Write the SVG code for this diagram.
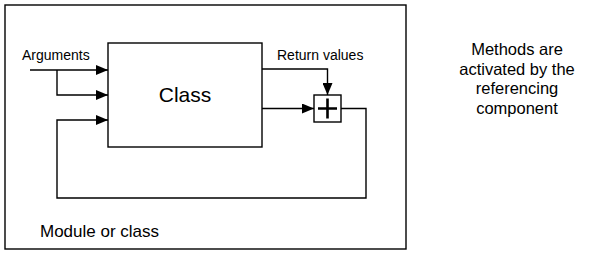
<svg xmlns="http://www.w3.org/2000/svg" width="600" height="254" viewBox="0 0 600 254">
<defs>
<marker id="ah" viewBox="0 0 12 10" refX="12" refY="5" markerWidth="12" markerHeight="10" markerUnits="userSpaceOnUse" orient="auto">
<path d="M0,0 L12,5 L0,10 Z" fill="#000"/>
</marker>
</defs>
<style>
text{font-family:"Liberation Sans",Arial,sans-serif;fill:#000}
.box{fill:#fff;stroke:#000;stroke-width:1.4}
.ln{fill:none;stroke:#000;stroke-width:1.4}
.plus{fill:none;stroke:#000;stroke-width:2.6}
.arr{fill:none;stroke:#000;stroke-width:1.4;marker-end:url(#ah)}
</style>
<rect width="600" height="254" fill="#fff"/>
<g id="module">
<rect class="box" x="5" y="5" width="401" height="244"/>
<text x="40" y="237" font-size="17">Module or class</text>
</g>
<g id="class">
<rect class="box" x="108" y="43" width="154" height="104"/>
<text x="185" y="102" font-size="21" text-anchor="middle">Class</text>
</g>
<g id="sum">
<rect class="box" x="314" y="95" width="27" height="27"/>
<path class="plus" d="M327.5,98.5 V118.5 M318,108.5 H337"/>
</g>
<g id="connectors">
<path class="arr" d="M30,70 H108"/>
<path class="arr" d="M57,70 V95 H108"/>
<path class="arr" d="M341,108.5 H366 V198 H57 V120 H108"/>
<path class="arr" d="M262,108.5 H314"/>
<path class="arr" d="M262,69 H327.5 V95"/>
</g>
<g id="labels">
<text x="22" y="60" font-size="14">Arguments</text>
<text x="277" y="60" font-size="14">Return values</text>
</g>
<g id="note">
<text x="517" y="55" font-size="16.5" text-anchor="middle">Methods are</text>
<text x="517" y="74.5" font-size="16.5" text-anchor="middle">activated by the</text>
<text x="517" y="94" font-size="16.5" text-anchor="middle">referencing</text>
<text x="517" y="113.5" font-size="16.5" text-anchor="middle">component</text>
</g>
</svg>
